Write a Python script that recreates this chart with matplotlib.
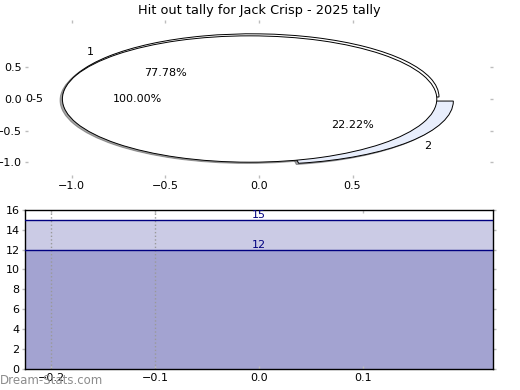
import matplotlib
matplotlib.use("Agg")
import matplotlib.pyplot as plt

# ---- data ----
title = "Hit out tally for Jack Crisp - 2025 tally"
outer_labels = ["0-5"]
outer_values = [9]
inner_labels = ["1", "2"]
inner_values = [7, 2]
inner_colors = ["white", "#e8eefc"]
pie_xticks = [-1.0, -0.5, 0.0, 0.5]
pie_yticks = [-1.0, -0.5, 0.0, 0.5]

levels = [12, 15]
level_fills = ["#a3a3d1", "#cbcbe5"]
bar_xlim = (-0.225, 0.225)
vlines_x = [-0.2, -0.1]
bar_xticks = [-0.2, -0.1, 0.0, 0.1]
bar_yticks = list(range(0, 17, 2))

tick_grey = "#bdbdbd"
shadow_style = dict(ox=-0.009, oy=-0.014, shade=0.7)

fig = plt.figure(figsize=(5.2, 3.9), dpi=100)

# ---- top: pies ----
ax1 = fig.add_axes([0.048, 0.5436, 0.9, 0.405])
ax1.pie(inner_values, labels=inner_labels, colors=inner_colors,
        explode=[0.05, 0.05], autopct="%.2f%%", shadow=shadow_style, frame=True,
        wedgeprops=dict(edgecolor="black", linewidth=0.7),
        textprops=dict(fontsize=8))
ax1.pie(outer_values, labels=outer_labels, colors=["white"],
        explode=[0.05], autopct="%.2f%%", shadow=shadow_style, frame=True,
        wedgeprops=dict(edgecolor="black", linewidth=0.7),
        textprops=dict(fontsize=8))
ax1.set_aspect("auto")
ax1.set_xlim(-1.25, 1.25)
ax1.set_ylim(-1.25, 1.25)
ax1.set_xticks(pie_xticks)
ax1.set_yticks(pie_yticks)
for s in ax1.spines.values():
    s.set_visible(False)
ax1.tick_params(axis="both", which="both", direction="in", length=2.4,
                width=1.0, color=tick_grey, labelsize=8,
                top=True, right=True, pad=2.5)
ax1.set_title(title, fontsize=9.3, pad=4)

# ---- bottom: levels ----
ax2 = fig.add_axes([0.048, 0.054, 0.9, 0.408])
lower = 0
for lvl, col in zip(levels, level_fills):
    ax2.fill_between(bar_xlim, lower, lvl, color=col, linewidth=0, zorder=1)
    ax2.axhline(lvl, color="#000080", linewidth=1.0, zorder=3)
    ax2.text(0.0, lvl, str(lvl), color="#000080", fontsize=8,
             ha="center", va="bottom", zorder=4)
    lower = lvl
for vx in vlines_x:
    ax2.axvline(vx, color="#999999", linestyle=":", linewidth=1.0, zorder=2)
ax2.set_xlim(*bar_xlim)
ax2.set_ylim(0, 16)
ax2.set_xticks(bar_xticks)
ax2.set_yticks(bar_yticks)
ax2.tick_params(axis="both", which="both", direction="in", length=2.4,
                width=1.0, color=tick_grey, labelsize=8,
                top=True, right=True, pad=3)
ax2.tick_params(axis="y", which="both", left=True, direction="out", pad=1.5)
for s in ax2.spines.values():
    s.set_linewidth(1.0)

fig.text(0.0, 0.024, "Dream-Stats.com", color="#8c8c8c", fontsize=8.5,
         ha="left", va="center")

fig.savefig("out.png", dpi=100)
